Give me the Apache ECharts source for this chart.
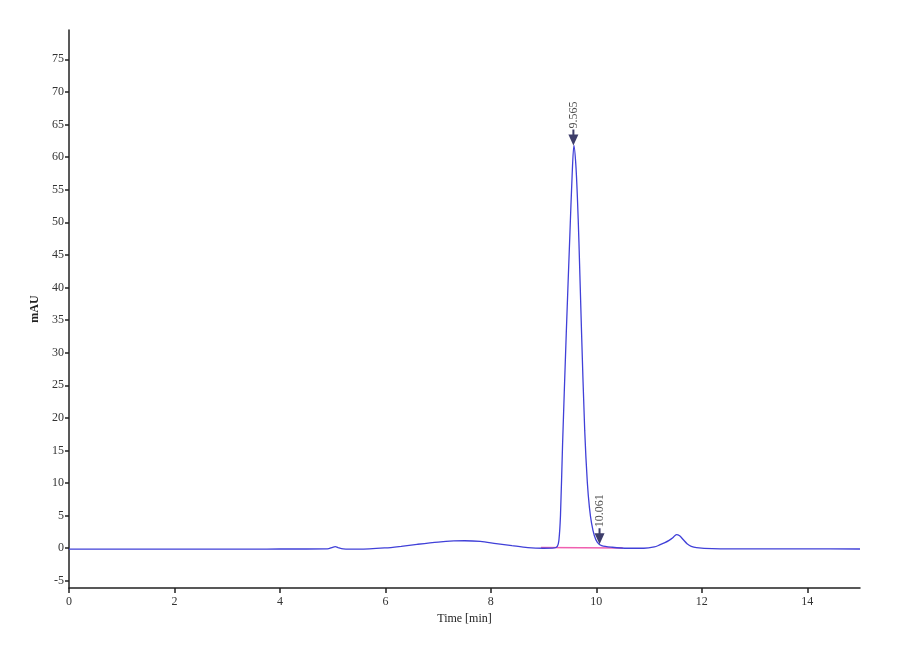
<!DOCTYPE html>
<html>
<head>
<meta charset="utf-8">
<script src="https://cdn.jsdelivr.net/npm/echarts@6/dist/echarts.min.js"></script>
<style>
  html, body { margin: 0; padding: 0; background: #fff; }
  #chart { width: 900px; height: 660px; }
</style>
</head>
<body>
<div id="chart"></div>
<script>
// chromatogram (time in min, signal in mAU)
const times = [0, 1, 2, 3, 3.5, 4, 4.5, 4.9, 5.0, 5.05, 5.1, 5.2, 5.5, 6.0, 6.3, 6.6, 7.0, 7.3, 7.5, 7.8,
  8.1, 8.4, 8.7, 9.0, 9.2, 9.26, 9.29, 9.32, 9.36, 9.43, 9.5, 9.54, 9.575, 9.61, 9.64, 9.67, 9.72,
  9.78, 9.83, 9.87, 9.91, 9.96, 10.02, 10.1, 10.3, 10.6, 10.9, 11.1, 11.2, 11.3, 11.38, 11.45, 11.52,
  11.58, 11.65, 11.72, 11.8, 11.9, 12.2, 13, 14, 15];
const signal = [-0.15, -0.15, -0.15, -0.15, -0.15, -0.12, -0.12, -0.1, 0.15, 0.25, 0.1, -0.1, -0.15, 0.05,
  0.3, 0.6, 0.95, 1.12, 1.15, 1.05, 0.72, 0.4, 0.1, 0.0, 0.05, 0.3, 1.2, 5, 16, 33, 48.5, 57, 61.8, 59,
  54, 47, 33, 18, 10, 6.2, 3.8, 2.0, 0.9, 0.4, 0.15, 0.0, 0.0, 0.2, 0.5, 0.85, 1.2, 1.6, 2.1, 1.9, 1.3,
  0.7, 0.3, 0.1, -0.05, -0.1, -0.1, -0.12];

// integration baseline (pink)
const baseTimes = [8.95, 10.5];
const baseValues = [0.1, 0.05];

// peak marks
const peakLabels = ['9.565', '10.061'];
const peakTimes = [9.565, 10.061];
const peakValues = [61.8, 0.6];

const xTicks = [0, 2, 4, 6, 8, 10, 12, 14];
const yTicks = [-5, 0, 5, 10, 15, 20, 25, 30, 35, 40, 45, 50, 55, 60, 65, 70, 75];

const chart = echarts.init(document.getElementById('chart'));
const serif = 'Liberation Serif';

chart.setOption({
  animation: false,
  backgroundColor: '#fff',
  grid: { left: 69, right: 40, top: 30, bottom: 72 },
  xAxis: {
    type: 'value',
    min: 0,
    max: 15,
    name: 'Time [min]',
    nameLocation: 'middle',
    nameGap: 23,
    nameTextStyle: { fontFamily: serif, fontSize: 12, color: '#222' },
    axisLine: { onZero: false, lineStyle: { color: '#222', width: 1.5 } },
    axisTick: { customValues: xTicks, length: 5, lineStyle: { color: '#222', width: 1.5 } },
    axisLabel: { customValues: xTicks, fontFamily: serif, fontSize: 12, color: '#333', margin: 8 },
    splitLine: { show: false }
  },
  yAxis: {
    type: 'value',
    min: -6.1,
    max: 79.5,
    name: 'mAU',
    nameLocation: 'middle',
    nameGap: 23,
    nameTextStyle: { fontFamily: serif, fontSize: 12, color: '#222', fontWeight: 'bold' },
    axisLine: { show: true, lineStyle: { color: '#222', width: 1.5 } },
    axisTick: { show: true, customValues: yTicks, length: 4, lineStyle: { color: '#222', width: 1.5 } },
    axisLabel: { customValues: yTicks, fontFamily: serif, fontSize: 12, color: '#333', margin: 5 },
    splitLine: { show: false }
  },
  series: [
    {
      type: 'line',
      name: 'baseline',
      data: baseTimes.map((t, i) => [t, baseValues[i]]),
      symbol: 'none',
      lineStyle: { color: '#f060b0', width: 1.5 },
      z: 2
    },
    {
      type: 'line',
      name: 'signal',
      data: times.map((t, i) => [t, signal[i]]),
      symbol: 'none',
      smooth: 0.3,
      lineStyle: { color: '#4040d8', width: 1.3 },
      z: 3
    },
    {
      type: 'scatter',
      name: 'peaks',
      data: peakTimes.map((t, i) => ({ name: peakLabels[i], value: [t, peakValues[i]] })),
      symbol: 'path://M4,0 L6,0 L6,5 L10,5 L5,16 L0,5 L4,5 Z',
      symbolSize: [10, 16],
      symbolOffset: [0, '-50%'],
      itemStyle: { color: '#0c0c45' },
      label: {
        show: true,
        formatter: '{b}',
        position: 'top',
        distance: 1,
        rotate: 90,
        align: 'left',
        verticalAlign: 'middle',
        fontFamily: serif,
        fontSize: 12,
        color: '#222'
      },
      z: 4
    }
  ]
});

window.addEventListener('resize', () => {
  chart.resize();
});
</script>
</body>
</html>
